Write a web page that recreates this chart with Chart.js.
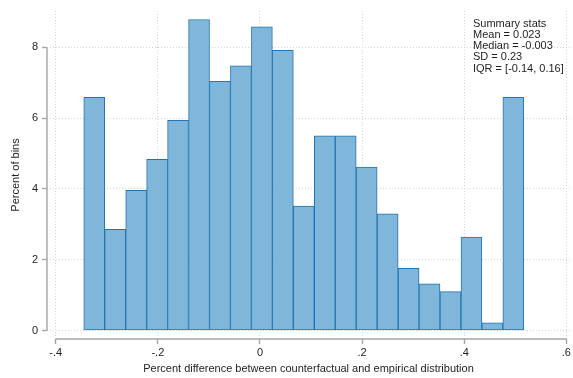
<!DOCTYPE html>
<html>
<head>
<meta charset="utf-8">
<script src="https://cdn.jsdelivr.net/npm/chart.js@4"></script>
<style>
  html, body { margin: 0; padding: 0; background: #fff; }
  #wrap { width: 573px; height: 378px; }
</style>
</head>
<body>
<div id="wrap"><canvas id="histChart"></canvas></div>
<script>
// Histogram data
const binCenters = [-0.3245, -0.2835, -0.2424, -0.2014, -0.1604, -0.1193, -0.0783,
  -0.0373, 0.0038, 0.0448, 0.0858, 0.1269, 0.1679, 0.2089, 0.2500, 0.2910,
  0.3320, 0.3730, 0.4141, 0.4551, 0.4961];
const pctOfBins = [6.59, 2.86, 3.96, 4.84, 5.94, 8.79, 7.04, 7.48, 8.58, 7.92,
  3.52, 5.50, 5.50, 4.62, 3.30, 1.76, 1.32, 1.10, 2.64, 0.22, 6.59];
const xTicks = [-0.4, -0.2, 0, 0.2, 0.4, 0.6];
const yTicks = [0, 2, 4, 6, 8];
const statLines = ['Summary stats', 'Mean = 0.023', 'Median = -0.003', 'SD = 0.23', 'IQR = [-0.14, 0.16]'];

const FONT = "'Liberation Sans', Arial, sans-serif";
const TEXT = '#1e1e1e';
const AXIS = '#a6a6a6';
const GRID = '#d4d4d4';

function fmtX(v) {
    if (v === 0) return '0';
    return (v < 0 ? '-' : '') + Math.abs(v).toFixed(1).replace(/^0/, '');
}

// Stata-like axis lines that run only between the outer ticks, plus the stats box
const extras = {
    id: 'extras',
    afterDraw(chart) {
        const ctx = chart.ctx;
        const xs = chart.scales.x, ys = chart.scales.y;
        const area = chart.chartArea;
        ctx.save();
        ctx.strokeStyle = AXIS;
        ctx.lineWidth = 1.4;
        ctx.beginPath();
        ctx.moveTo(area.left, ys.getPixelForValue(yTicks[0]));
        ctx.lineTo(area.left, ys.getPixelForValue(yTicks[yTicks.length - 1]));
        ctx.moveTo(xs.getPixelForValue(xTicks[0]), area.bottom);
        ctx.lineTo(xs.getPixelForValue(xTicks[xTicks.length - 1]), area.bottom);
        ctx.stroke();

        ctx.fillStyle = TEXT;
        ctx.font = '11px ' + FONT;
        ctx.textAlign = 'left';
        ctx.textBaseline = 'middle';
        statLines.forEach(function(line, i) {
            ctx.fillText(line, 473, 23.5 + i * 11.3);
        });
        ctx.restore();
    }
};

const points = binCenters.map(function(c, i) { return { x: c, y: pctOfBins[i] }; });

new Chart(document.getElementById('histChart'), {
    type: 'bar',
    data: {
        datasets: [{
            data: points,
            backgroundColor: '#80b6d9',
            borderColor: '#1f76b4',
            borderWidth: 1,
            borderSkipped: false,
            barPercentage: 1,
            categoryPercentage: 1
        }]
    },
    options: {
        responsive: true,
        maintainAspectRatio: false,
        animation: false,
        layout: { padding: { top: 11, right: 2, left: 0, bottom: 0 } },
        plugins: {
            legend: { display: false },
            tooltip: { enabled: false }
        },
        scales: {
            x: {
                type: 'linear',
                min: -0.417,
                max: 0.607,
                offset: false,
                afterBuildTicks: function(scale) {
                    scale.ticks = xTicks.map(function(v) { return { value: v }; });
                },
                afterFit: function(scale) { scale.height = 39; },
                ticks: {
                    color: TEXT,
                    font: { family: FONT, size: 11 },
                    padding: 2,
                    maxRotation: 0,
                    callback: function(v) { return fmtX(v); }
                },
                grid: {
                    offset: false,
                    color: GRID,
                    lineWidth: 1,
                    tickLength: 5,
                    tickColor: AXIS,
                    tickWidth: 1.4,
                    tickBorderDash: []
                },
                border: { display: false, dash: [1, 2] },
                title: {
                    display: true,
                    text: 'Percent difference between counterfactual and empirical distribution',
                    color: TEXT,
                    font: { family: FONT, size: 11 },
                    padding: { top: 0, bottom: 2 }
                }
            },
            y: {
                min: -0.24,
                max: 9.03,
                afterBuildTicks: function(scale) {
                    scale.ticks = yTicks.map(function(v) { return { value: v }; });
                },
                afterFit: function(scale) { scale.width = 47; },
                ticks: {
                    color: TEXT,
                    font: { family: FONT, size: 11 },
                    padding: 4
                },
                grid: {
                    color: GRID,
                    lineWidth: 1,
                    tickLength: 5,
                    tickColor: AXIS,
                    tickWidth: 1.4,
                    tickBorderDash: []
                },
                border: { display: false, dash: [1, 2] },
                title: {
                    display: true,
                    text: 'Percent of bins',
                    color: TEXT,
                    font: { family: FONT, size: 11 },
                    padding: { top: 9, bottom: 0 }
                }
            }
        }
    },
    plugins: [extras]
});
</script>
</body>
</html>
